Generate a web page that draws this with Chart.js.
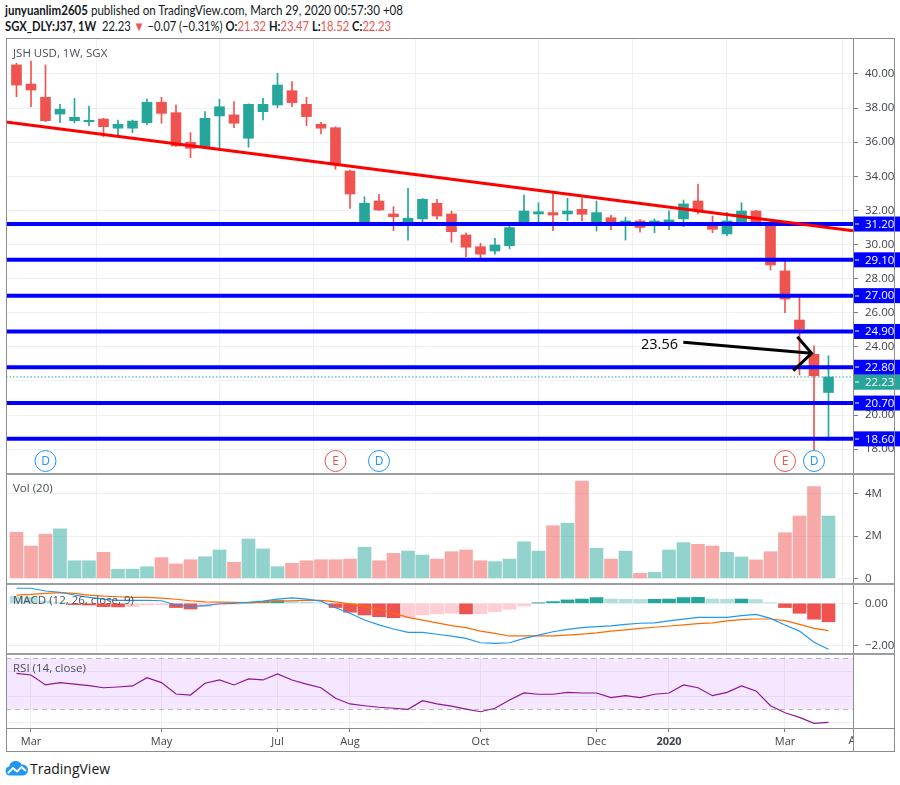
<!DOCTYPE html>
<html><head><meta charset="utf-8">
<script src="https://cdn.jsdelivr.net/npm/chart.js@4.4.0/dist/chart.umd.min.js"></script>
<style>
body{margin:0;background:#fff;width:900px;height:785px;overflow:hidden;font-family:'Open Sans',sans-serif;color:#131722;position:relative}
.abs{position:absolute}
canvas{position:absolute;left:6px}
.ln{position:absolute;background:#8a8d94}
.ttl{position:absolute;left:13px;font-size:11.5px;color:#4a4e58;white-space:nowrap}
.red{color:#ef5350}
.hdr{position:absolute;left:5px;font-family:Lato,sans-serif;font-size:13px;white-space:nowrap;transform-origin:0 50%}
</style></head>
<body>
<div id="h1" class="hdr" style="top:2px"><b>junyuanlim2605</b> published on TradingView.com, March 29, 2020 00:57:30 +08</div>
<div id="h2" class="hdr" style="top:18px"><b>SGX_DLY:J37, 1W</b>&nbsp; 22.23 <span class="red">▼</span> −0.07 (−0.31%) <b>O:</b><span class="red">21.32</span> <b>H:</b><span class="red">23.47</span> <b>L:</b><span class="red">18.52</span> <b>C:</b><span class="red">22.23</span></div>

<canvas id="cMain" width="894" height="436" style="top:38px"></canvas>
<canvas id="cVol" width="894" height="110" style="top:474px"></canvas>
<canvas id="cMacd" width="894" height="70" style="top:584px"></canvas>
<canvas id="cRsi" width="894" height="98" style="top:654px"></canvas>

<!-- frame -->
<div class="ln" style="left:6px;top:38px;width:1px;height:714px"></div>
<div class="ln" style="left:894px;top:38px;width:1px;height:714px"></div>
<div class="ln" style="left:6px;top:38px;width:889px;height:1px"></div>
<div class="ln" style="left:6px;top:751px;width:889px;height:1px"></div>
<div class="ln" style="left:853px;top:38px;width:1px;height:714px"></div>
<div class="ln" style="left:6px;top:473px;width:889px;height:2px;background:#9a9da4"></div>
<div class="ln" style="left:6px;top:583px;width:889px;height:2px;background:#9a9da4"></div>
<div class="ln" style="left:6px;top:653px;width:889px;height:2px;background:#9a9da4"></div>
<div class="ln" style="left:6px;top:728px;width:889px;height:1px"></div>

<div class="ttl" style="top:45px">JSH USD, 1W, SGX</div>
<div class="ttl" style="top:480px">Vol (20)</div>
<div class="ttl" style="top:592px">MACD (12, 26, close, 9)</div>
<div class="ttl" style="top:660px">RSI (14, close)</div>

<svg class="abs" style="left:5px;top:760px" width="24" height="16" viewBox="0 0 24 16">
<path d="M5 15.5 A4.5 4.5 0 0 1 4.2 6.6 A6.5 6.5 0 0 1 16.5 4.6 A5.5 5.5 0 0 1 18.5 15.5 Z" fill="#2196f3"/>
<polyline points="3,13 8,8 12,11.5 16.5,7 21,11" fill="none" stroke="#fff" stroke-width="2"/>
</svg>
<div class="abs" style="left:30px;top:759px;font-size:14px;color:#131722">TradingView</div>

<script>
// fit header lines to the reference widths
[['h1',398],['h2',386]].forEach(([id,w])=>{
  const el = document.getElementById(id);
  const cur = el.getBoundingClientRect().width;
  if (cur > 0) el.style.transform = `scaleX(${w/cur})`;
});

const FONT = "'Open Sans', sans-serif";
const UP = '#26a69a', DOWN = '#ef5350';
const GRID = '#edf0f5';

// ---- weekly candles (index 0 = week of 25 Feb 2019) ----
const opens  = [40.53,39.41,38.63,37.65,37.26,37.2,37.36,36.82,36.82,37.14,38.34,37.73,35.99,35.74,37.54,37.6,36.23,37.79,38.18,39.02,38.22,37.05,36.85,34.31,31.3,32.55,31.79,31.34,31.5,32.42,31.79,30.56,29.87,29.62,29.93,31.14,31.79,31.87,31.79,32.06,31.2,31.57,31.24,31.38,31.1,31.34,31.5,32.55,31.08,30.62,31.34,31.96,31.14,28.45,25.57,23.56,21.32];
const highs  = [40.63,40.76,40.53,38.22,38.57,38.12,37.4,37.3,37.3,38.53,38.63,38.18,36.56,37.79,38.52,38.38,38.25,38.57,40.04,39.55,38.63,37.17,36.9,34.37,32.8,32.94,32.22,33.3,32.7,32.65,31.96,30.69,30.07,30.36,31.18,32.9,32.45,33.0,32.71,32.74,32.55,31.73,31.6,31.48,31.5,31.98,32.61,33.55,31.67,31.89,32.45,32.0,31.44,29.13,26.98,24.06,23.47];
const lows   = [38.67,38.08,37.2,37.14,37.14,36.97,36.32,36.42,36.56,37.01,37.11,35.75,35.09,35.7,35.58,36.85,35.7,37.3,38.02,38.08,36.97,36.48,34.41,32.12,31.28,32.0,30.81,30.26,31.34,31.48,30.13,29.28,29.15,29.43,29.74,31.1,31.24,30.81,31.4,31.38,30.79,30.85,30.26,30.72,30.69,30.85,31.04,31.79,30.69,30.52,31.14,31.14,28.5,26.0,22.35,17.95,18.52];
const closes = [39.35,39.06,37.26,37.93,37.46,37.26,36.91,37.05,37.24,38.34,37.69,35.78,35.64,37.4,38.08,37.11,38.22,38.22,39.35,38.32,37.5,36.82,34.66,32.96,32.42,32.02,31.63,31.54,32.65,31.67,30.75,29.84,29.43,29.97,30.99,31.96,31.92,31.73,31.96,31.77,31.87,31.14,31.38,31.0,31.38,31.44,32.38,31.98,30.89,31.38,31.96,31.3,28.8,26.8,25.03,22.30,22.23];
// volume in millions
const volumes = [2.18,1.53,2.09,2.34,0.83,0.83,1.23,0.43,0.43,0.55,0.98,0.68,0.88,1.02,1.34,0.76,1.86,1.39,0.55,0.71,0.83,0.88,0.88,0.91,1.47,0.83,1.18,1.29,1.1,0.91,1.26,1.34,0.83,0.79,0.91,1.73,1.29,2.49,2.61,4.61,1.42,0.91,1.29,0.24,0.28,1.34,1.69,1.61,1.53,1.23,1.01,0.87,1.26,2.16,2.95,4.34,2.95];
const macdLine = [0.71,0.71,0.58,0.52,0.39,0.28,0.2,0.14,0.14,0.14,0.12,-0.08,-0.16,-0.11,-0.02,0.0,0.05,0.1,0.2,0.26,0.2,0.1,-0.21,-0.47,-0.79,-1.02,-1.21,-1.37,-1.37,-1.46,-1.55,-1.65,-1.86,-1.89,-1.86,-1.65,-1.5,-1.34,-1.23,-1.15,-1.1,-1.06,-0.99,-0.94,-0.92,-0.83,-0.75,-0.66,-0.66,-0.66,-0.58,-0.52,-0.71,-1.02,-1.31,-1.84,-2.17];
const signalLine = [0.39,0.42,0.47,0.5,0.47,0.39,0.34,0.31,0.28,0.28,0.24,0.19,0.12,0.07,0.06,0.04,0.03,0.06,0.1,0.12,0.14,0.14,0.07,-0.03,-0.16,-0.28,-0.47,-0.66,-0.79,-0.92,-1.05,-1.15,-1.31,-1.42,-1.54,-1.54,-1.54,-1.54,-1.5,-1.45,-1.39,-1.31,-1.25,-1.18,-1.13,-1.07,-1.02,-0.96,-0.92,-0.83,-0.77,-0.74,-0.74,-0.82,-0.99,-1.18,-1.29];
const histogram = [0.32,0.29,0.11,0.02,-0.06,-0.08,-0.16,-0.17,-0.16,-0.08,-0.07,-0.2,-0.27,-0.16,-0.08,-0.04,0.01,0.08,0.13,0.12,0.06,0.02,-0.2,-0.42,-0.55,-0.63,-0.68,-0.67,-0.55,-0.5,-0.47,-0.5,-0.49,-0.39,-0.28,-0.13,0.01,0.08,0.16,0.2,0.27,0.2,0.19,0.18,0.19,0.2,0.27,0.28,0.2,0.19,0.2,0.18,0.01,-0.2,-0.47,-0.75,-0.87];
const rsiValues = [58.2,56.9,49.1,50.9,49.8,48.5,46.9,47.5,48.3,54.8,50.9,42,41.2,50.4,53,49.1,53.8,53,57.7,53,49.8,46.9,38.6,34.2,32.8,31.6,30.8,30,36.7,34.2,32.5,30.2,28.1,30.8,37.3,42.8,41.8,41.8,43.3,42.8,42.8,39.1,40.7,39.1,41.8,42.8,49.1,46.9,40.7,43.3,48.3,44.4,32.8,27.3,23.7,19,19.8];

// drawings
const levels = [31.2,29.1,27.0,24.9,22.8,20.7,18.6];
const trendX = [-0.724,57.69], trendY = [37.19,30.81];
const arrowX = [45.99,54.84], arrowY = [24.26,23.62];
const headX = [53.85,54.84,53.57], headY = [24.59,23.62,22.6];
const noteText = '23.56', noteX = 45.62, noteY = 24.11;
const events = [{i:2,t:'D'},{i:22,t:'E'},{i:25,t:'D'},{i:53,t:'E'},{i:55,t:'D'}];

// axes
const monthTicks  = [1,10,18,23,32,40,45,53,58];
const monthLabels = ['Mar','May','Jul','Aug','Oct','Dec','2020','Mar','Apr'];
const priceTicks = [18,20,22,24,26,28,30,32,34,36,38,40];
const volTicks = [0,2,4];
const macdTicks = [0,-2];
const rsiGrid = [20,40,60];
const rsiBands = [70,30];

const X_MIN = -0.724, X_MAX = 57.69;
const idx = closes.map((_, i) => i);
const lastClose = closes[closes.length-1];
const AXIS_COL = '#3d414b';

function mkX(show){
  return {
    type:'linear', min:X_MIN, max:X_MAX, offset:false,
    afterBuildTicks:s=>{ s.ticks = monthTicks.filter(v=>v>=X_MIN && v<=X_MAX).map(v=>({value:v})); },
    grid:{color:GRID, lineWidth:1, drawTicks:show, tickLength:4, tickColor:'#787b86'},
    border:{display:false},
    ticks:{display:show, autoSkip:false, maxRotation:0, minRotation:0, padding:3, color:AXIS_COL,
      callback:v=>monthLabels[monthTicks.indexOf(v)],
      font:c=>({family:FONT, size:11, weight:(c.tick && monthLabels[monthTicks.indexOf(c.tick.value)]==='2020') ? 'bold' : 'normal'})},
    afterFit:s=>{ s.height = show ? 24 : 0; s.paddingLeft = 0; s.paddingRight = 0; }
  };
}
function mkY(min,max,vals,fmt,show){
  return {
    position:'right', min, max,
    afterBuildTicks:s=>{ s.ticks = vals.map(v=>({value:v})); },
    grid:{color:GRID, drawTicks:show, tickLength:5, tickColor:'#787b86'},
    border:{display:false},
    ticks:{display:show, padding:7, color:AXIS_COL, font:{family:FONT, size:11.5}, callback:fmt},
    afterFit:s=>{ s.width = 41; s.paddingTop = 0; s.paddingBottom = 0; }
  };
}
const base = () => ({
  responsive:false, animation:false, events:[],
  layout:{padding:{left:0,right:6,top:0,bottom:0}},
  plugins:{legend:{display:false}, tooltip:{enabled:false}}
});
const flat = (y, color, w, dash) => ({type:'line', data:[{x:X_MIN,y},{x:X_MAX,y}], borderColor:color, borderWidth:w, borderDash:dash||[], pointRadius:0, order:2});
const candleColor = c => closes[c.dataIndex] >= opens[c.dataIndex] ? UP : DOWN;

// ---------- main price pane ----------
const mainPlugin = {
  id:'mainDeco',
  afterDatasetsDraw(chart){
    const {ctx, scales:{x,y}, chartArea} = chart;
    ctx.save();
    ctx.font = `14.5px ${FONT}`; ctx.fillStyle = '#000'; ctx.textAlign = 'right'; ctx.textBaseline = 'middle';
    ctx.fillText(noteText, x.getPixelForValue(noteX), y.getPixelForValue(noteY));
    events.forEach(e=>{
      const px = x.getPixelForValue(e.i), py = chartArea.bottom - 13;
      const col = e.t === 'D' ? '#2196f3' : '#ef5350';
      ctx.beginPath(); ctx.arc(px, py, 10.5, 0, Math.PI*2);
      ctx.fillStyle = '#fff'; ctx.fill(); ctx.lineWidth = 1; ctx.strokeStyle = col; ctx.stroke();
      ctx.fillStyle = col; ctx.font = `12px ${FONT}`; ctx.textAlign = 'center'; ctx.textBaseline = 'middle';
      ctx.fillText(e.t, px, py + 0.5);
    });
    ctx.restore();
  },
  afterDraw(chart){
    const {ctx, scales:{y}, chartArea} = chart;
    const boxes = levels.map(v=>({v, col:'#0000ff'})).concat([{v:lastClose, col:UP}]);
    boxes.sort((a,b)=>y.getPixelForValue(a.v)-y.getPixelForValue(b.v));
    const H = 15; let prevBottom = -1e9;
    ctx.save();
    boxes.forEach(b=>{
      let cy = y.getPixelForValue(b.v);
      if (cy - H/2 < prevBottom) cy = prevBottom + H/2;
      prevBottom = cy + H/2;
      const x0 = chartArea.right + 1;
      ctx.fillStyle = b.col; ctx.fillRect(x0, cy - H/2, 60, H);
      ctx.fillStyle = '#fff'; ctx.fillRect(x0 + 1, Math.round(cy) - 0.5, 4, 1);
      ctx.font = `11.5px ${FONT}`; ctx.textAlign = 'left'; ctx.textBaseline = 'middle';
      ctx.fillText(b.v.toFixed(2), chartArea.right + 12, cy + 0.5);
    });
    ctx.restore();
  }
};
new Chart(document.getElementById('cMain'), {
  type:'bar',
  data:{datasets:[
    {data:idx.map(i=>({x:i, y:[lows[i], highs[i]]})), backgroundColor:candleColor, barThickness:1, grouped:false, order:20},
    {data:idx.map(i=>({x:i, y:[opens[i], closes[i]]})), backgroundColor:candleColor, barThickness:10, minBarLength:1.5, grouped:false, order:19},
    ...levels.map(v=>flat(v, '#0000ff', 4)),
    {...flat(lastClose, UP, 1, [1.5,2]), order:3},
    {type:'line', data:trendX.map((v,k)=>({x:v, y:trendY[k]})), borderColor:'#ff0000', borderWidth:3, pointRadius:0, order:1},
    {type:'line', data:arrowX.map((v,k)=>({x:v, y:arrowY[k]})), borderColor:'#000', borderWidth:3, pointRadius:0, order:0},
    {type:'line', data:headX.map((v,k)=>({x:v, y:headY[k]})), borderColor:'#000', borderWidth:3, pointRadius:0, order:0}
  ]},
  options:{...base(), scales:{x:mkX(false), y:mkY(16.54, 42.11, priceTicks, v=>v.toFixed(2), true)}},
  plugins:[mainPlugin]
});

// ---------- volume pane ----------
new Chart(document.getElementById('cVol'), {
  type:'bar',
  data:{datasets:[{data:idx.map(i=>({x:i, y:volumes[i]})),
    backgroundColor:c=> closes[c.dataIndex] >= opens[c.dataIndex] ? 'rgba(38,166,154,0.5)' : 'rgba(239,83,80,0.5)',
    barThickness:13, grouped:false}]},
  options:{...base(), scales:{x:mkX(false), y:mkY(-0.27, 4.94, volTicks, v=> v===0 ? '0' : v+'M', true)}}
});

// ---------- MACD pane ----------
const histColor = c => {
  const i = c.dataIndex, h = histogram[i], p = i > 0 ? histogram[i-1] : Infinity;
  if (h >= 0) return h > p ? '#26a69a' : '#b2dfdb';
  return h < p ? '#ef5350' : '#ffcdd2';
};
new Chart(document.getElementById('cMacd'), {
  type:'bar',
  data:{datasets:[
    {data:idx.map(i=>({x:i, y:histogram[i]})), backgroundColor:histColor, barThickness:13, grouped:false, order:5},
    {type:'line', data:idx.map(i=>({x:i, y:signalLine[i]})), borderColor:'#ff6a00', borderWidth:1.2, pointRadius:0, order:2},
    {type:'line', data:idx.map(i=>({x:i, y:macdLine[i]})), borderColor:'#2196f3', borderWidth:1.2, pointRadius:0, order:1}
  ]},
  options:{...base(), scales:{x:mkX(false), y:mkY(-2.39, 0.91, macdTicks, v=> v===0 ? '0.00' : (v<0?'\u2212':'')+Math.abs(v).toFixed(2), true)}}
});

// ---------- RSI pane ----------
const rsiPlugin = {
  id:'rsiDeco',
  beforeDatasetsDraw(chart){
    const {ctx, scales:{y}, chartArea} = chart;
    const yT = y.getPixelForValue(rsiBands[0]), yB = y.getPixelForValue(rsiBands[1]);
    ctx.save();
    ctx.fillStyle = 'rgba(153,21,255,0.10)';
    ctx.fillRect(chartArea.left, yT, chartArea.width, yB - yT);
    ctx.strokeStyle = '#b8b8b8'; ctx.lineWidth = 1; ctx.setLineDash([5,4]);
    [yT, yB].forEach(p=>{ ctx.beginPath(); ctx.moveTo(chartArea.left, Math.round(p)+0.5); ctx.lineTo(chartArea.right, Math.round(p)+0.5); ctx.stroke(); });
    ctx.restore();
  },
  afterDraw(chart){
    const {ctx, scales:{x}, chartArea} = chart;
    ctx.save();
    ctx.beginPath(); ctx.rect(chartArea.left, chartArea.bottom, chartArea.width, 30); ctx.clip();
    ctx.font = `11px ${FONT}`; ctx.fillStyle = AXIS_COL; ctx.textAlign = 'center'; ctx.textBaseline = 'top';
    monthTicks.forEach((v,k)=>{ if (v > X_MAX) ctx.fillText(monthLabels[k], x.getPixelForValue(v), chartArea.bottom + 7); });
    ctx.restore();
  }
};
new Chart(document.getElementById('cRsi'), {
  type:'line',
  data:{datasets:[{data:idx.map(i=>({x:i, y:rsiValues[i]})), borderColor:'#8e1599', borderWidth:1.2, pointRadius:0}]},
  options:{...base(), scales:{x:mkX(true), y:mkY(15.33, 73.37, rsiGrid, v=>'', false)}},
  plugins:[rsiPlugin]
});
</script>
</body></html>
